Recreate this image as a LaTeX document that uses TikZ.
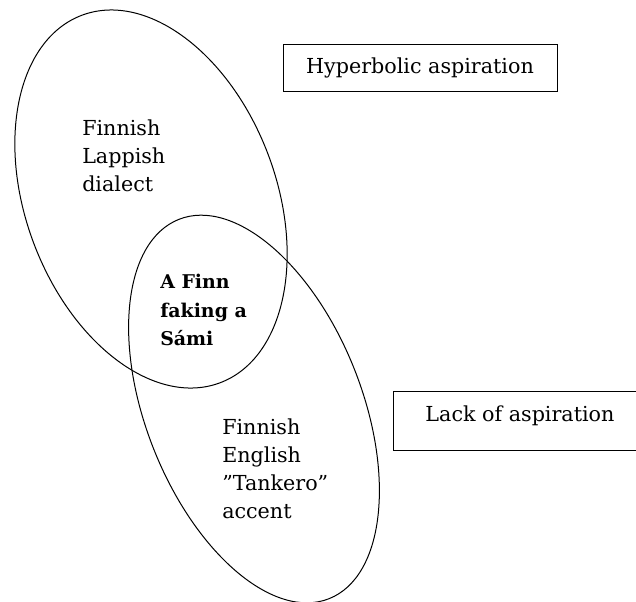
\documentclass[tikz,border=0pt]{standalone}
\usepackage{fontspec}
\setmainfont{DejaVu Serif}
\usetikzlibrary{positioning, shapes.geometric}

\begin{document}
\begin{tikzpicture}[
        x=0.75pt, y=-0.75pt,
        set/.style={ellipse, draw, line width=0.75pt, inner sep=0pt},
        label/.style={align=left, inner sep=0pt, anchor=north west, font=\fontsize{15.5}{21}\selectfont},
        core/.style={align=left, inner sep=0pt, anchor=north west, font=\fontsize{14.2}{21.4}\selectfont\bfseries},
        feature/.style={rectangle, draw, line width=0.75pt, font=\fontsize{15.5}{19}\selectfont}
      ]
        \useasboundingbox (0,0) rectangle (636,601);
        \clip (0,0) rectangle (636,601);

        % Sets
        \node[set, minimum width=294.5pt, minimum height=188pt, rotate=-69.4] (lappish) at (151,199) {};
        \node[set, minimum width=306pt, minimum height=162pt, rotate=-68.4] (tankero) at (254,409) {};

        % Labels
        \node[label] (dialect) at (82,120) {Finnish\\Lappish\\dialect};
        \node[core] (fake) at (160,274) {A Finn\\faking a\\Sámi};
        \node[label] (accent) at (222,419) {Finnish\\English\\”Tankero”\\accent};

        % Features
        \node[feature, minimum width=205.5pt, minimum height=35.25pt] (hyper) at (420,67.5) {Hyperbolic aspiration};
        \node[feature, minimum width=190.5pt, minimum height=44.25pt, text height=11pt, text depth=10pt] (lack) at (520,420.5) {Lack of aspiration};
      \end{tikzpicture}
\end{document}
